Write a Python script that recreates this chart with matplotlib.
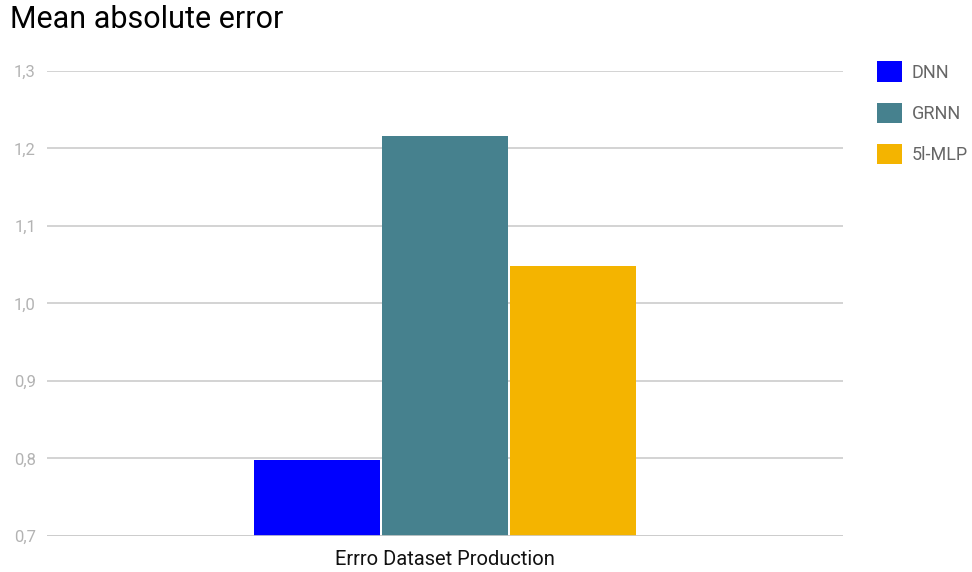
import matplotlib.pyplot as plt
from matplotlib.patches import Patch
from matplotlib.ticker import FuncFormatter

plt.rcParams['font.family'] = ['Roboto', 'DejaVu Sans']

category = 'Errro Dataset Production'
models = ['DNN', 'GRNN', '5l-MLP']
mae = [0.798, 1.216, 1.048]
colors = ['#0000ff', '#46818e', '#f4b400']
yticks = [0.7, 0.8, 0.9, 1.0, 1.1, 1.2, 1.3]

fig = plt.figure(figsize=(9.72, 5.72), dpi=100)
ax = fig.add_axes([0.0484, 0.063, 0.819, 0.813])

xpos = [-1, 0, 1]
for x, v, c in zip(xpos, mae, colors):
    ax.bar(x, v - 0.7, bottom=0.7, width=0.985, color=c, zorder=3)

ax.set_xlim(-3.11, 3.11)
ax.set_ylim(0.7, 1.3)
ax.set_yticks(yticks)
ax.yaxis.set_major_formatter(FuncFormatter(lambda v, _: f'{v:.1f}'.replace('.', ',')))
ax.grid(axis='y', color='#cccccc', linewidth=1.2, zorder=0)
ax.tick_params(axis='y', length=0, pad=8, labelsize=12, labelcolor='#b3b3b3')
ax.set_xticks([0])
ax.set_xticklabels([category])
ax.tick_params(axis='x', length=0, pad=10, labelsize=14.5, labelcolor='#111111')
for s in ax.spines.values():
    s.set_visible(False)
ax.axhline(0.7, color='#cccccc', linewidth=1.2, zorder=4)

fig.text(0.01, 0.966, 'Mean absolute error', fontsize=22, color='#000000', va='center')

handles = [Patch(facecolor=c, edgecolor='none') for c in colors]
leg = fig.legend(handles, models, loc='upper left', bbox_to_anchor=(0.886, 0.921),
                 frameon=False, handlelength=1.35, handleheight=1.35,
                 labelspacing=1.17, handletextpad=0.55, fontsize=13)
for t in leg.get_texts():
    t.set_color('#666666')

fig.savefig('out.png', dpi=100)
